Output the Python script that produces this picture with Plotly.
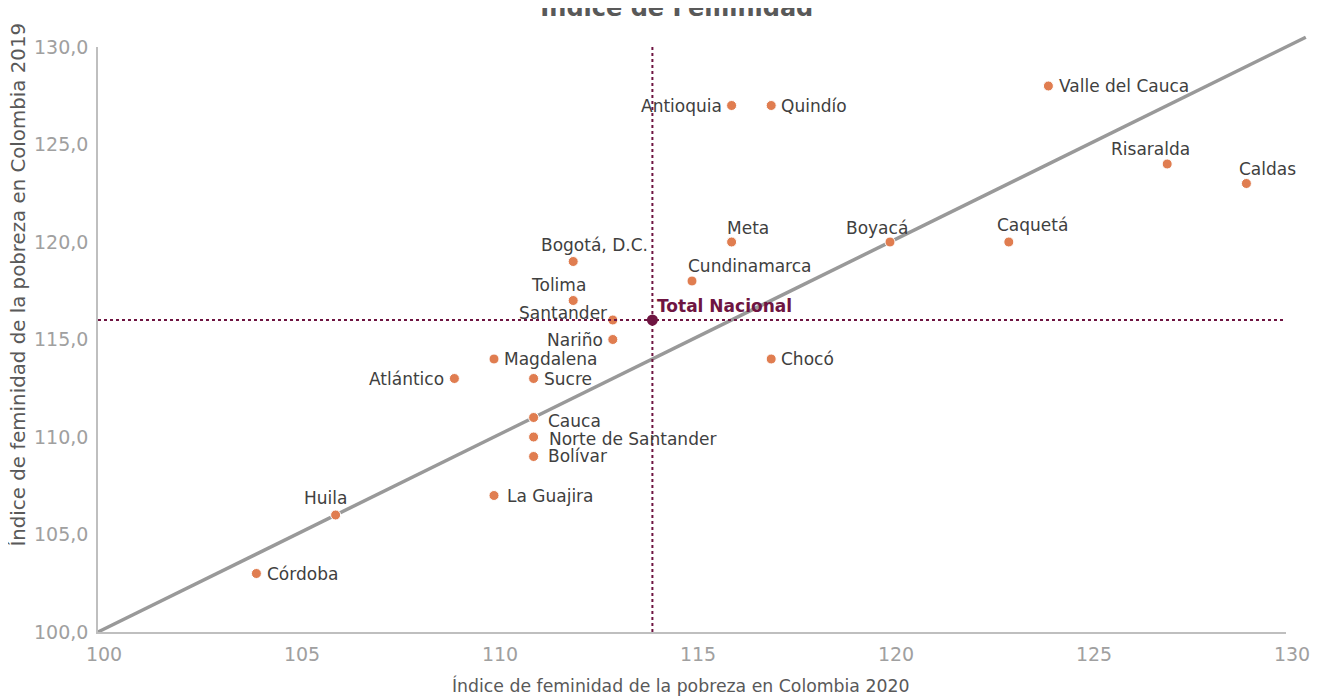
"""
Índice de feminidad de la pobreza por departamento: 2020 vs 2019.
"""

import plotly.graph_objects as go

# Datos por departamento
departamentos = [
    "Córdoba", "Huila", "La Guajira", "Bolívar", "Norte de Santander", "Cauca",
    "Sucre", "Atlántico", "Magdalena", "Nariño", "Santander", "Tolima",
    "Bogotá, D.C.", "Cundinamarca", "Meta", "Antioquia", "Quindío", "Chocó",
    "Boyacá", "Caquetá", "Valle del Cauca", "Risaralda", "Caldas",
]
ifp_2020 = [104, 106, 110, 111, 111, 111, 111, 109, 110, 113, 113, 112,
            112, 115, 116, 116, 117, 117, 120, 123, 124, 127, 129]
ifp_2019 = [103, 106, 107, 109, 110, 111, 113, 113, 114, 115, 116, 117,
            119, 118, 120, 127, 127, 114, 120, 120, 128, 124, 123]

nacional_nombre = "Total Nacional"
nacional_2020 = 114
nacional_2019 = 116

x_ticks = [100, 105, 110, 115, 120, 125, 130]
y_ticks = [100, 105, 110, 115, 120, 125, 130]

# posición de cada etiqueta: ancla, desplazamiento x, desplazamiento y (px)
posiciones = {
    "Córdoba": ("left", 9, 0),
    "Huila": ("center", -10, 17),
    "La Guajira": ("left", 11, 0),
    "Bolívar": ("left", 12, 1),
    "Norte de Santander": ("left", 13, -2),
    "Cauca": ("left", 12, -3),
    "Sucre": ("left", 8, 0),
    "Atlántico": ("right", -8, 0),
    "Magdalena": ("left", 8, 0),
    "Nariño": ("right", -8, 0),
    "Santander": ("right", -4, 7),
    "Tolima": ("center", -15, 16),
    "Bogotá, D.C.": ("center", 21, 17),
    "Cundinamarca": ("center", 57, 15),
    "Meta": ("center", 16, 14),
    "Antioquia": ("right", -8, 0),
    "Quindío": ("left", 8, 0),
    "Chocó": ("left", 8, 0),
    "Boyacá": ("center", -13, 14),
    "Caquetá": ("center", 24, 17),
    "Valle del Cauca": ("left", 9, 0),
    "Risaralda": ("center", -17, 15),
    "Caldas": ("center", 21, 15),
}

FUENTE = "DejaVu Sans, Verdana, sans-serif"
NARANJA = "#E07D50"
GRANATE = "#6E1441"
GRIS_LINEA = "#999999"

x_min, x_max = x_ticks[0], x_ticks[-1]
y_min, y_max = y_ticks[0], y_ticks[-1]
fin_diagonal = 130.5

fig = go.Figure()

# líneas de referencia del total nacional
fig.add_shape(type="line", x0=nacional_2020, x1=nacional_2020, y0=y_min, y1=y_max,
              xref="x", yref="y", line=dict(color=GRANATE, width=2, dash="dot"))
fig.add_shape(type="line", x0=x_min, x1=x_max, y0=nacional_2019, y1=nacional_2019,
              xref="x", yref="y", line=dict(color=GRANATE, width=2, dash="dot"))

# diagonal y = x (se sale un poco del área de trazado)
fig.add_shape(
    type="line", xref="paper", yref="paper",
    x0=0, y0=0,
    x1=(fin_diagonal - x_min) / (x_max - x_min),
    y1=(fin_diagonal - y_min) / (y_max - y_min),
    line=dict(color=GRIS_LINEA, width=3.5),
    layer="below",
)

fig.add_trace(go.Scatter(
    x=ifp_2020, y=ifp_2019, mode="markers", text=departamentos,
    marker=dict(color=NARANJA, size=10, line=dict(color="white", width=1)),
    hovertemplate="%{text}<br>2020: %{x}<br>2019: %{y}<extra></extra>",
    cliponaxis=False,
))
fig.add_trace(go.Scatter(
    x=[nacional_2020], y=[nacional_2019], mode="markers", text=[nacional_nombre],
    marker=dict(color=GRANATE, size=11),
    hovertemplate="%{text}<br>2020: %{x}<br>2019: %{y}<extra></extra>",
    cliponaxis=False,
))

anotaciones = []
for nombre, xv, yv in zip(departamentos, ifp_2020, ifp_2019):
    ancla, dx, dy = posiciones[nombre]
    anotaciones.append(dict(
        x=xv, y=yv, xref="x", yref="y", text=nombre, showarrow=False,
        xanchor=ancla, yanchor="middle", xshift=dx, yshift=dy,
        font=dict(family=FUENTE, size=17, color="#404040"),
    ))
anotaciones.append(dict(
    x=nacional_2020, y=nacional_2019, xref="x", yref="y",
    text=f"<b>{nacional_nombre}</b>", showarrow=False,
    xanchor="left", yanchor="middle", xshift=3, yshift=14,
    font=dict(family=FUENTE, size=17, color=GRANATE),
))
# títulos de los ejes
anotaciones.append(dict(
    x=0.49, y=-0.0906, xref="paper", yref="paper", showarrow=False,
    text="Índice de feminidad de la pobreza en Colombia 2020",
    xanchor="center", yanchor="middle",
    font=dict(family=FUENTE, size=17.3, color="#595959"),
))
anotaciones.append(dict(
    x=-0.0673, y=0.594, xref="paper", yref="paper", showarrow=False,
    text="Índice de feminidad de la pobreza en Colombia 2019", textangle=-90,
    xanchor="center", yanchor="middle",
    font=dict(family=FUENTE, size=19.8, color="#595959"),
))

fig.update_layout(
    width=1314, height=690, autosize=False,
    margin=dict(l=90, r=36, t=39, b=66),
    paper_bgcolor="white", plot_bgcolor="white",
    showlegend=False,
    separators=",.",
    font=dict(family=FUENTE),
    title=dict(
        text="<b>Índice de Feminidad</b>", x=0.509, xanchor="center",
        yref="container", y=1.0, yanchor="middle",
        font=dict(family=FUENTE, size=24, color="#595959"),
    ),
    annotations=anotaciones,
)
fig.update_xaxes(
    range=[x_min, x_max], tickvals=x_ticks, showgrid=False, zeroline=False,
    showline=True, linecolor="#BFBFBF", linewidth=1.5, ticks="",
    tickfont=dict(family=FUENTE, size=19, color="#A0A0A0"),
    ticklabelshift=6, ticklabelstandoff=4,
)
fig.update_yaxes(
    range=[y_min, y_max], tickvals=y_ticks, tickformat=".1f",
    showgrid=False, zeroline=False,
    showline=True, linecolor="#BFBFBF", linewidth=1.5, ticks="",
    tickfont=dict(family=FUENTE, size=19, color="#A0A0A0"),
    ticklabelstandoff=4,
)

fig.write_html("out.html")
